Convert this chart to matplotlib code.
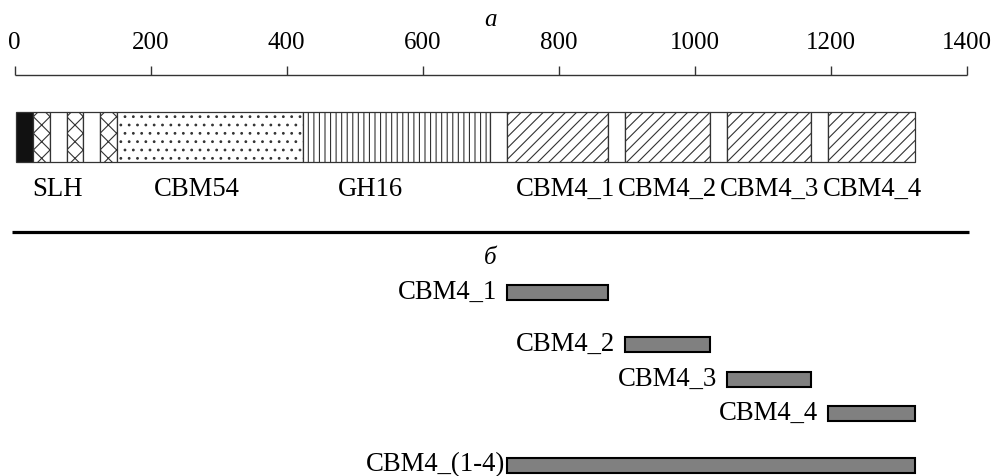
import numpy as np
import matplotlib.pyplot as plt

plt.rcParams['font.family'] = ['Liberation Serif', 'DejaVu Serif']
plt.rcParams['hatch.linewidth'] = 0.8

# scale ticks (amino acid positions)
ticks = [0, 200, 400, 600, 800, 1000, 1200, 1400]

# domain map (panel a)
seg_start = [2, 27, 52, 77, 101, 126, 151, 424, 699, 724, 873, 898, 1023, 1048, 1171, 1196]
seg_end = [27, 52, 77, 101, 126, 151, 424, 699, 724, 873, 898, 1023, 1048, 1171, 1196, 1324]
seg_hatch = ['', 'xx', '', 'xx', '', 'xx', '..', '|||', '', '///', '', '///', '', '///', '', '///']
seg_fill = ['#111111'] + ['white'] * 15

dom_names = ['SLH', 'CBM54', 'GH16', 'CBM4_1', 'CBM4_2', 'CBM4_3', 'CBM4_4']
dom_label_x = [63, 268, 524, 810, 960, 1110, 1261]

# constructs (panel b)
con_names = ['CBM4_1', 'CBM4_2', 'CBM4_3', 'CBM4_4', 'CBM4_(1-4)']
con_start = [724, 898, 1048, 1196, 724]
con_end = [873, 1023, 1171, 1324, 1324]

# layout in pixels
px0, ppu = 14.5, 0.68
W, H = 994, 476
row_y = [292, 344, 379, 413, 465]

fig = plt.figure(figsize=(W / 100, H / 100), dpi=100)
ax = fig.add_axes([0, 0, 1, 1])
ax.set_xlim(-px0 / ppu, (W - px0) / ppu)
ax.set_ylim(H, 0)
ax.axis('off')

fs = 18
fs2 = 19.3

# top scale
ax.hlines(75, ticks[0], ticks[-1], color='#333333', lw=1)
ax.vlines(ticks, 66, 75, color='#333333', lw=1)
for t in ticks:
    ax.text(t, 43, str(t), ha='center', va='center', fontsize=fs)
ax.text(700, 20, 'а', ha='center', va='center', fontsize=fs, style='italic')

# domain bar
s = np.array(seg_start)
e = np.array(seg_end)
for i in range(len(s)):
    ax.barh(137, e[i] - s[i], left=s[i], height=50, color=seg_fill[i],
            edgecolor='#333333', hatch=seg_hatch[i], lw=0.9)
for name, x in zip(dom_names, dom_label_x):
    ax.text(x, 189, name, ha='center', va='center', fontsize=fs2)

# separator
ax.hlines(232, -3, 1403, color='black', lw=2.3)
ax.text(700, 258, 'б', ha='center', va='center', fontsize=fs, style='italic')

# constructs
cs = np.array(con_start)
ce = np.array(con_end)
ax.barh(row_y, ce - cs, left=cs, height=15, color='#808080',
        edgecolor='black', lw=1.5)
for i, name in enumerate(con_names):
    off = -1.5 if i == len(con_names) - 1 else -7
    ax.annotate(name, (cs[i], row_y[i]), xytext=(off, 0), textcoords='offset points',
                ha='right', va='center', fontsize=fs2)

fig.savefig('out.png', dpi=100)
